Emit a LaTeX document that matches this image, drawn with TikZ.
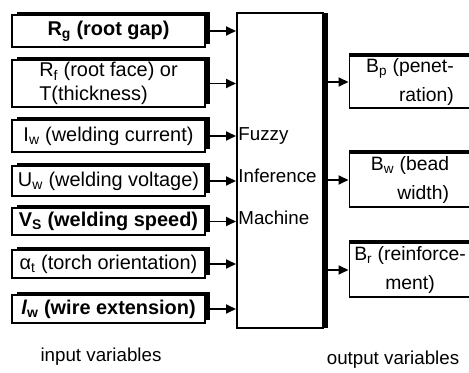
\documentclass[tikz,border=0pt]{standalone}
\usepackage{fontspec}
\setmainfont{Liberation Sans}
\usepackage{tikz}
\usetikzlibrary{arrows.meta, positioning, shadows}

\begin{document}
\begin{tikzpicture}[x=0.03cm, y=-0.03cm,
    varbox/.style={draw, line width=1.7pt, fill=white, inner sep=0pt,
      minimum width=5.79cm, font=\fontsize{17}{20}\selectfont,
      general shadow={fill=black, shadow xshift=0.15cm, shadow yshift=0.1cm}},
    outbox/.style={draw, line width=1.7pt, fill=white, inner sep=0pt,
      minimum width=3.63cm, font=\fontsize{16.5}{25}\selectfont,
      general shadow={fill=black, shadow yshift=0.09cm}},
    flow/.style={-{Triangle[length=0.3cm, width=0.27cm]}, line width=1.5pt}]
\useasboundingbox (0,0) rectangle (469,373);

% === Input variables (left) ===
\node[varbox, minimum height=0.96cm] (rg) at (108.5,31) {\textbf{R\textsubscript{g} (root gap)}};
\node[varbox, minimum height=1.41cm, align=left] (rf) at (108.5,83.5)
  {R\textsubscript{f} (root face) or\\T(thickness)};
\node[varbox, minimum height=0.96cm] (iw) at (108.5,136) {I\textsubscript{w} (welding current)};
\node[varbox, minimum height=0.9cm] (uw) at (108.5,181) {U\textsubscript{w} (welding voltage)};
\node[varbox, minimum height=0.81cm] (vs) at (108.5,221.5) {\textbf{V\textsubscript{S} (welding speed)}};
\node[varbox, minimum height=0.84cm] (at) at (108.5,264) {α\textsubscript{t} (torch orientation)};
\node[varbox, minimum height=0.84cm] (lw) at (108.5,309) {\textbf{\textit{l}\textsubscript{w} (wire extension)}};

% === Fuzzy inference machine (middle) ===
\node[draw, line width=1.7pt, fill=white, minimum width=2.58cm, minimum height=9.45cm,
      general shadow={fill=black, shadow xshift=0.16cm}] (fim) at (280,170.5) {};
\node[anchor=west, align=left, inner sep=1pt, font=\fontsize{16}{36}\selectfont] (fimtext) at (237,176)
  {Fuzzy\\Inference\\Machine};

% Arrows into the machine
\foreach \src in {rg,rf,iw,uw,vs,at,lw} {
  \draw[flow] (\src.east) -- (\src.east -| fim.west);
}

% === Output variables (right) ===
\node[outbox, minimum height=1.56cm, align=right] (bp) at (410,82)
  {B\textsubscript{p} (penet-\\ration)};
\node[outbox, minimum height=1.62cm, align=right] (bw) at (410,180)
  {B\textsubscript{w} (bead\\width)};
\node[outbox, minimum height=1.62cm, align=center] (br) at (410,270)
  {B\textsubscript{r} (reinforce-\\ment)};

% Arrows out of the machine
\foreach \dst in {bp,bw,br} {
  \draw[flow] (fim.east |- \dst.west) -- (\dst.west);
}

% === Captions ===
\node[font=\fontsize{16}{20}\selectfont] (inlabel) at (101,357) {input variables};
\node[font=\fontsize{16}{20}\selectfont] (outlabel) at (393,360) {output variables};

\end{tikzpicture}
\end{document}
